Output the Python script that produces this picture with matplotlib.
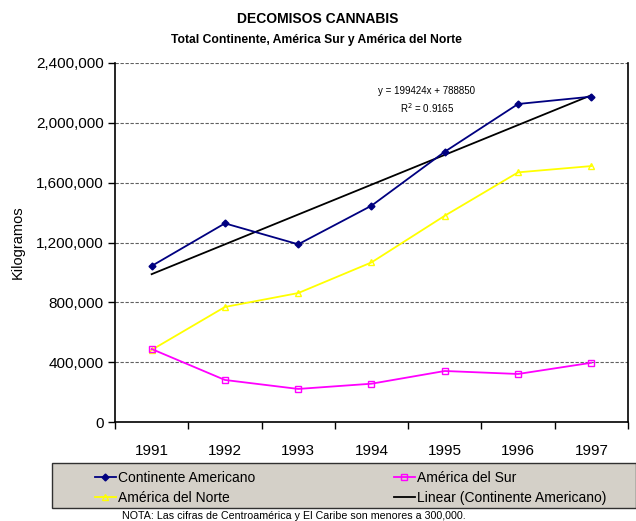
import matplotlib
matplotlib.use("Agg")
import matplotlib.pyplot as plt
import numpy as np
from matplotlib.lines import Line2D
from matplotlib.patches import Rectangle
from matplotlib.ticker import FuncFormatter, FixedLocator

plt.rcParams['font.family'] = ['Liberation Sans', 'DejaVu Sans']

years = ["1991", "1992", "1993", "1994", "1995", "1996", "1997"]
continente = [1043000, 1328000, 1188000, 1446000, 1807000, 2126000, 2175000]
norte = [482000, 769000, 862000, 1067000, 1379000, 1669000, 1711000]
sur = [488000, 281000, 221000, 256000, 341000, 321000, 396000]
trend_slope = 199424
trend_intercept = 788850
r2 = 0.9165

W, H = 636, 521
fig = plt.figure(figsize=(W / 100, H / 100), dpi=100)
L, R, T, B = 115, 628, 63, 422
ax = fig.add_axes([L / W, 1 - B / H, (R - L) / W, (B - T) / H])

x = np.arange(len(years))
blue = '#000080'
yellow = '#FFFF00'
magenta = '#FF00FF'

trend_x = np.arange(1, len(years) + 1)
trend_y = trend_slope * trend_x + trend_intercept
ax.plot(x, trend_y, color='black', lw=1.3, zorder=3)
ax.plot(x, continente, color=blue, lw=1.3, marker='D', ms=3.5, mfc=blue, mec=blue, zorder=4)
ax.plot(x, norte, color=yellow, lw=1.3, marker='^', ms=4.5, mfc='none', mec=yellow, zorder=4)
ax.plot(x, sur, color=magenta, lw=1.3, marker='s', ms=4.5, mfc='none', mec=magenta, zorder=4)

ax.set_xlim(-0.5, len(years) - 0.5)
ax.set_ylim(0, 2400000)
ax.set_yticks(np.arange(0, 2400001, 400000))
ax.yaxis.set_major_formatter(FuncFormatter(lambda v, p: f"{int(v):,}"))
ax.yaxis.grid(True, color='#606060', ls=(0, (3, 1.5)), lw=0.8)
ax.set_axisbelow(True)

ax.xaxis.set_major_locator(FixedLocator(np.arange(-0.5, len(years), 1.0)))
ax.xaxis.set_major_formatter(FuncFormatter(lambda v, p: ""))
ax.xaxis.set_minor_locator(FixedLocator(x))
ax.set_xticklabels(years, minor=True)
ax.tick_params(axis='x', which='major', length=5, width=1, direction='out', color='black')
ax.tick_params(axis='x', which='minor', length=0, pad=16, labelsize=11)
ax.tick_params(axis='y', length=5, width=1, direction='out', labelsize=11, pad=3)

ax.spines['top'].set_visible(False)
for s in ['left', 'bottom', 'right']:
    ax.spines[s].set_linewidth(1.2)
    ax.spines[s].set_color('black')

ax.set_ylabel("Kilogramos", fontsize=10.5, labelpad=8)

fig.text(318 / W, 1 - 19 / H, "DECOMISOS CANNABIS", ha='center', va='center',
         fontsize=10, fontweight='bold')
fig.text(316 / W, 1 - 40 / H, "Total Continente, América Sur y América del Norte",
         ha='center', va='center', fontsize=8.7, fontweight='bold')

fig.text(427 / W, 1 - 91 / H, f"y = {trend_slope}x + {trend_intercept}", fontsize=7,
         ha='center', va='center')
fig.text(427 / W, 1 - 108 / H, f"R$^2$ = {r2}", fontsize=7, ha='center', va='center')

# legend box
fig.patches.append(Rectangle((52 / W, 1 - 508 / H), (W - 52) / W, 45 / H, transform=fig.transFigure,
                             facecolor='#D4D0C8', edgecolor='#303030', lw=1, zorder=0))
h_c = Line2D([], [], color=blue, lw=1.3, marker='D', ms=3.5, mfc=blue, mec=blue)
h_n = Line2D([], [], color=yellow, lw=1.3, marker='^', ms=4.5, mfc='none', mec=yellow)
h_s = Line2D([], [], color=magenta, lw=1.3, marker='s', ms=4.5, mfc='none', mec=magenta)
h_l = Line2D([], [], color='black', lw=1.3)
kw = dict(frameon=False, fontsize=10, handlelength=1.5, handletextpad=0.15, labelspacing=0.45,
          borderpad=0, borderaxespad=0, loc='upper left')
leg1 = fig.legend([h_c, h_n], ["Continente Americano", "América del Norte"],
                  bbox_to_anchor=(95 / W, 1 - 471 / H), **kw)
leg2 = fig.legend([h_s, h_l], ["América del Sur", "Linear (Continente Americano)"],
                  bbox_to_anchor=(394 / W, 1 - 471 / H), **kw)

fig.text(294 / W, 1 - 516 / H, "NOTA: Las cifras de Centroamérica y El Caribe son menores a 300,000.",
         ha='center', va='center', fontsize=7.7)

fig.savefig("out.png", dpi=100)
